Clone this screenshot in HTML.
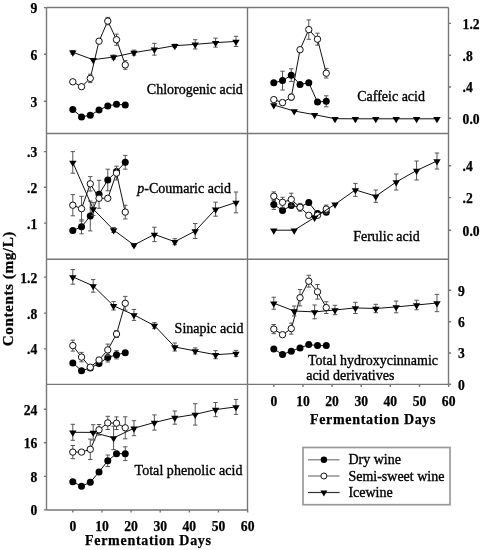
<!DOCTYPE html>
<html><head><meta charset="utf-8"><title>Phenolic acids</title>
<style>
html,body{margin:0;padding:0;background:#fff;}
body{width:485px;height:550px;overflow:hidden;font-family:"Liberation Serif",serif;}
svg{display:block;-webkit-font-smoothing:antialiased;will-change:transform;}
</style></head>
<body>
<svg width="485" height="550" viewBox="0 0 485 550">
<rect width="485" height="550" fill="#fff"/>
<g>
<path d="M46.5 7.5H448.5M46.5 133.5H448.5M46.5 259.3H448.5M46.5 384.4H448.5M46.5 510.0H247.5" stroke="#777" stroke-width="1.4" fill="none"/>
<path d="M46.5 7.5V510.0M247.5 7.5V510.0M448.5 7.5V384.4" stroke="#777" stroke-width="1.4" fill="none"/>
<path d="M43.9 7.6H46.5M43.9 54.2H46.5M43.9 101.3H46.5M43.9 151.6H46.5M43.9 187.3H46.5M43.9 223.1H46.5M43.9 277.1H46.5M43.9 313.1H46.5M43.9 348.9H46.5M43.9 409.2H46.5M43.9 442.8H46.5M43.9 476.4H46.5M43.9 509.9H46.5M448.5 23.4H451.1M448.5 55.2H451.1M448.5 87H451.1M448.5 118.3H451.1M448.5 165.7H451.1M448.5 197.6H451.1M448.5 230.2H451.1M448.5 290.2H451.1M448.5 321.7H451.1M448.5 353H451.1M448.5 384.3H451.1M72.8 510.0V512.6M273.8 384.4V387.0M101.94 510.0V512.6M302.94 384.4V387.0M131.08 510.0V512.6M332.08 384.4V387.0M160.22 510.0V512.6M361.22 384.4V387.0M189.36 510.0V512.6M390.36 384.4V387.0M218.5 510.0V512.6M419.5 384.4V387.0M247.64 510.0V512.6M448.64 384.4V387.0" stroke="#777" stroke-width="1.4" fill="none"/>
</g>
<g>
<polyline points="72.8,109.5 81.54,116.9 90.28,115.3 99.03,110 107.77,105.9 116.51,104.3 125.25,105" stroke="#111" stroke-width="1" fill="none"/>
<circle cx="72.8" cy="109.5" r="3.5" fill="#000"/>
<circle cx="81.54" cy="116.9" r="3.5" fill="#000"/>
<circle cx="90.28" cy="115.3" r="3.5" fill="#000"/>
<circle cx="99.03" cy="110" r="3.5" fill="#000"/>
<circle cx="107.77" cy="105.9" r="3.5" fill="#000"/>
<circle cx="116.51" cy="104.3" r="3.5" fill="#000"/>
<circle cx="125.25" cy="105" r="3.5" fill="#000"/>
<polyline points="72.8,81.8 81.54,86.7 90.28,78.4 99.03,41.2 107.77,21.1 116.51,39.7 125.25,64.9" stroke="#111" stroke-width="1" fill="none"/>
<path d="M90.28 74.2V82.6M88.08 74.2H92.48M88.08 82.6H92.48" stroke="#555" stroke-width="1" fill="none"/>
<path d="M107.77 17.4V24.8M105.57 17.4H109.97M105.57 24.8H109.97" stroke="#555" stroke-width="1" fill="none"/>
<path d="M116.51 34.1V45.3M114.31 34.1H118.71M114.31 45.3H118.71" stroke="#555" stroke-width="1" fill="none"/>
<path d="M125.25 60.5V69.3M123.05 60.5H127.45M123.05 69.3H127.45" stroke="#555" stroke-width="1" fill="none"/>
<circle cx="72.8" cy="81.8" r="3.2" fill="#fff" stroke="#111" stroke-width="1"/>
<circle cx="81.54" cy="86.7" r="3.2" fill="#fff" stroke="#111" stroke-width="1"/>
<circle cx="90.28" cy="78.4" r="3.2" fill="#fff" stroke="#111" stroke-width="1"/>
<circle cx="99.03" cy="41.2" r="3.2" fill="#fff" stroke="#111" stroke-width="1"/>
<circle cx="107.77" cy="21.1" r="3.2" fill="#fff" stroke="#111" stroke-width="1"/>
<circle cx="116.51" cy="39.7" r="3.2" fill="#fff" stroke="#111" stroke-width="1"/>
<circle cx="125.25" cy="64.9" r="3.2" fill="#fff" stroke="#111" stroke-width="1"/>
<polyline points="72.8,52.3 93.2,59.7 113.6,57 133.99,52.6 154.39,49.25 174.79,45.7 195.19,44.35 215.59,42.65 235.98,41.4" stroke="#111" stroke-width="1" fill="none"/>
<path d="M72.8 50.5V54.1M70.6 50.5H75M70.6 54.1H75" stroke="#555" stroke-width="1" fill="none"/>
<path d="M113.6 55V59M111.4 55H115.8M111.4 59H115.8" stroke="#555" stroke-width="1" fill="none"/>
<path d="M133.99 50.1V55.1M131.79 50.1H136.19M131.79 55.1H136.19" stroke="#555" stroke-width="1" fill="none"/>
<path d="M154.39 43.35V55.15M152.19 43.35H156.59M152.19 55.15H156.59" stroke="#555" stroke-width="1" fill="none"/>
<path d="M174.79 44.2V47.2M172.59 44.2H176.99M172.59 47.2H176.99" stroke="#555" stroke-width="1" fill="none"/>
<path d="M195.19 39.7V49M192.99 39.7H197.39M192.99 49H197.39" stroke="#555" stroke-width="1" fill="none"/>
<path d="M215.59 38.15V47.15M213.39 38.15H217.79M213.39 47.15H217.79" stroke="#555" stroke-width="1" fill="none"/>
<path d="M235.98 36.3V46.5M233.78 36.3H238.18M233.78 46.5H238.18" stroke="#555" stroke-width="1" fill="none"/>
<path d="M69.1 50.53H76.5L72.8 56.73Z" fill="#000"/>
<path d="M89.5 57.93H96.9L93.2 64.13Z" fill="#000"/>
<path d="M109.9 55.23H117.3L113.6 61.43Z" fill="#000"/>
<path d="M130.29 50.83H137.69L133.99 57.03Z" fill="#000"/>
<path d="M150.69 47.48H158.09L154.39 53.68Z" fill="#000"/>
<path d="M171.09 43.93H178.49L174.79 50.13Z" fill="#000"/>
<path d="M191.49 42.58H198.89L195.19 48.78Z" fill="#000"/>
<path d="M211.89 40.88H219.29L215.59 47.08Z" fill="#000"/>
<path d="M232.28 39.63H239.68L235.98 45.83Z" fill="#000"/>
<polyline points="273.8,82.8 282.54,80.6 291.28,75.2 300.03,84.4 308.77,82.8 317.51,102.1 326.25,101.3" stroke="#111" stroke-width="1" fill="none"/>
<path d="M282.54 71.2V90M280.34 71.2H284.74M280.34 90H284.74" stroke="#555" stroke-width="1" fill="none"/>
<path d="M291.28 68.8V81.6M289.08 68.8H293.48M289.08 81.6H293.48" stroke="#555" stroke-width="1" fill="none"/>
<path d="M326.25 95.8V106.8M324.05 95.8H328.45M324.05 106.8H328.45" stroke="#555" stroke-width="1" fill="none"/>
<circle cx="273.8" cy="82.8" r="3.5" fill="#000"/>
<circle cx="282.54" cy="80.6" r="3.5" fill="#000"/>
<circle cx="291.28" cy="75.2" r="3.5" fill="#000"/>
<circle cx="300.03" cy="84.4" r="3.5" fill="#000"/>
<circle cx="308.77" cy="82.8" r="3.5" fill="#000"/>
<circle cx="317.51" cy="102.1" r="3.5" fill="#000"/>
<circle cx="326.25" cy="101.3" r="3.5" fill="#000"/>
<polyline points="273.8,99.6 282.54,102.6 291.28,97.1 300.03,49.7 308.77,29.6 317.51,39.2 326.25,73.2" stroke="#111" stroke-width="1" fill="none"/>
<path d="M291.28 94.1V100.1M289.08 94.1H293.48M289.08 100.1H293.48" stroke="#555" stroke-width="1" fill="none"/>
<path d="M308.77 19.9V39.3M306.57 19.9H310.97M306.57 39.3H310.97" stroke="#555" stroke-width="1" fill="none"/>
<path d="M317.51 33.2V45.2M315.31 33.2H319.71M315.31 45.2H319.71" stroke="#555" stroke-width="1" fill="none"/>
<path d="M326.25 68.4V78M324.05 68.4H328.45M324.05 78H328.45" stroke="#555" stroke-width="1" fill="none"/>
<circle cx="273.8" cy="99.6" r="3.2" fill="#fff" stroke="#111" stroke-width="1"/>
<circle cx="282.54" cy="102.6" r="3.2" fill="#fff" stroke="#111" stroke-width="1"/>
<circle cx="291.28" cy="97.1" r="3.2" fill="#fff" stroke="#111" stroke-width="1"/>
<circle cx="300.03" cy="49.7" r="3.2" fill="#fff" stroke="#111" stroke-width="1"/>
<circle cx="308.77" cy="29.6" r="3.2" fill="#fff" stroke="#111" stroke-width="1"/>
<circle cx="317.51" cy="39.2" r="3.2" fill="#fff" stroke="#111" stroke-width="1"/>
<circle cx="326.25" cy="73.2" r="3.2" fill="#fff" stroke="#111" stroke-width="1"/>
<polyline points="273.8,105 294.2,111 314.6,114.7 334.99,118.7 355.39,118.8 375.79,118.8 396.19,118.8 416.59,118.8 436.98,118.8" stroke="#111" stroke-width="1" fill="none"/>
<path d="M270.1 103.23H277.5L273.8 109.43Z" fill="#000"/>
<path d="M290.5 109.23H297.9L294.2 115.43Z" fill="#000"/>
<path d="M310.9 112.93H318.3L314.6 119.13Z" fill="#000"/>
<path d="M331.29 116.93H338.69L334.99 123.13Z" fill="#000"/>
<path d="M351.69 117.03H359.09L355.39 123.23Z" fill="#000"/>
<path d="M372.09 117.03H379.49L375.79 123.23Z" fill="#000"/>
<path d="M392.49 117.03H399.89L396.19 123.23Z" fill="#000"/>
<path d="M412.89 117.03H420.29L416.59 123.23Z" fill="#000"/>
<path d="M433.28 117.03H440.68L436.98 123.23Z" fill="#000"/>
<polyline points="72.8,230.5 81.54,226.8 90.28,216 99.03,194.3 107.77,180 116.51,171.5 125.25,162.3" stroke="#111" stroke-width="1" fill="none"/>
<path d="M81.54 219.8V233.8M79.34 219.8H83.74M79.34 233.8H83.74" stroke="#555" stroke-width="1" fill="none"/>
<path d="M90.28 201.1V230.9M88.08 201.1H92.48M88.08 230.9H92.48" stroke="#555" stroke-width="1" fill="none"/>
<path d="M99.03 180.3V208.3M96.83 180.3H101.23M96.83 208.3H101.23" stroke="#555" stroke-width="1" fill="none"/>
<path d="M107.77 169.2V190.8M105.57 169.2H109.97M105.57 190.8H109.97" stroke="#555" stroke-width="1" fill="none"/>
<path d="M125.25 155.4V169.2M123.05 155.4H127.45M123.05 169.2H127.45" stroke="#555" stroke-width="1" fill="none"/>
<circle cx="72.8" cy="230.5" r="3.5" fill="#000"/>
<circle cx="81.54" cy="226.8" r="3.5" fill="#000"/>
<circle cx="90.28" cy="216" r="3.5" fill="#000"/>
<circle cx="99.03" cy="194.3" r="3.5" fill="#000"/>
<circle cx="107.77" cy="180" r="3.5" fill="#000"/>
<circle cx="116.51" cy="171.5" r="3.5" fill="#000"/>
<circle cx="125.25" cy="162.3" r="3.5" fill="#000"/>
<polyline points="72.8,205.2 81.54,208.7 90.28,183.8 99.03,198.3 107.77,198.3 116.51,173.1 125.25,212.1" stroke="#111" stroke-width="1" fill="none"/>
<path d="M72.8 194.6V215.8M70.6 194.6H75M70.6 215.8H75" stroke="#555" stroke-width="1" fill="none"/>
<path d="M81.54 196.3V221.1M79.34 196.3H83.74M79.34 221.1H83.74" stroke="#555" stroke-width="1" fill="none"/>
<path d="M90.28 176.6V191M88.08 176.6H92.48M88.08 191H92.48" stroke="#555" stroke-width="1" fill="none"/>
<path d="M116.51 166.2V180M114.31 166.2H118.71M114.31 180H118.71" stroke="#555" stroke-width="1" fill="none"/>
<path d="M125.25 205.2V219M123.05 205.2H127.45M123.05 219H127.45" stroke="#555" stroke-width="1" fill="none"/>
<circle cx="72.8" cy="205.2" r="3.2" fill="#fff" stroke="#111" stroke-width="1"/>
<circle cx="81.54" cy="208.7" r="3.2" fill="#fff" stroke="#111" stroke-width="1"/>
<circle cx="90.28" cy="183.8" r="3.2" fill="#fff" stroke="#111" stroke-width="1"/>
<circle cx="99.03" cy="198.3" r="3.2" fill="#fff" stroke="#111" stroke-width="1"/>
<circle cx="107.77" cy="198.3" r="3.2" fill="#fff" stroke="#111" stroke-width="1"/>
<circle cx="116.51" cy="173.1" r="3.2" fill="#fff" stroke="#111" stroke-width="1"/>
<circle cx="125.25" cy="212.1" r="3.2" fill="#fff" stroke="#111" stroke-width="1"/>
<polyline points="72.8,162.4 93.2,209 113.6,230 133.99,245 154.39,234.4 174.79,241.7 195.19,231 215.59,209.2 235.98,202.4" stroke="#111" stroke-width="1" fill="none"/>
<path d="M72.8 151.6V173.2M70.6 151.6H75M70.6 173.2H75" stroke="#555" stroke-width="1" fill="none"/>
<path d="M93.2 202.6V215.4M91 202.6H95.4M91 215.4H95.4" stroke="#555" stroke-width="1" fill="none"/>
<path d="M113.6 227.5V232.5M111.4 227.5H115.8M111.4 232.5H115.8" stroke="#555" stroke-width="1" fill="none"/>
<path d="M133.99 243.5V246.5M131.79 243.5H136.19M131.79 246.5H136.19" stroke="#555" stroke-width="1" fill="none"/>
<path d="M154.39 227.2V241.6M152.19 227.2H156.59M152.19 241.6H156.59" stroke="#555" stroke-width="1" fill="none"/>
<path d="M174.79 238.7V244.7M172.59 238.7H176.99M172.59 244.7H176.99" stroke="#555" stroke-width="1" fill="none"/>
<path d="M195.19 223.5V238.5M192.99 223.5H197.39M192.99 238.5H197.39" stroke="#555" stroke-width="1" fill="none"/>
<path d="M215.59 202.2V216.2M213.39 202.2H217.79M213.39 216.2H217.79" stroke="#555" stroke-width="1" fill="none"/>
<path d="M235.98 192V212.8M233.78 192H238.18M233.78 212.8H238.18" stroke="#555" stroke-width="1" fill="none"/>
<path d="M69.1 160.63H76.5L72.8 166.83Z" fill="#000"/>
<path d="M89.5 207.23H96.9L93.2 213.43Z" fill="#000"/>
<path d="M109.9 228.23H117.3L113.6 234.43Z" fill="#000"/>
<path d="M130.29 243.23H137.69L133.99 249.43Z" fill="#000"/>
<path d="M150.69 232.63H158.09L154.39 238.83Z" fill="#000"/>
<path d="M171.09 239.93H178.49L174.79 246.13Z" fill="#000"/>
<path d="M191.49 229.23H198.89L195.19 235.43Z" fill="#000"/>
<path d="M211.89 207.43H219.29L215.59 213.63Z" fill="#000"/>
<path d="M232.28 200.63H239.68L235.98 206.83Z" fill="#000"/>
<polyline points="273.8,204.4 282.54,210.5 291.28,205.6 300.03,207 308.77,202.6 317.51,213.5 326.25,212.2" stroke="#111" stroke-width="1" fill="none"/>
<path d="M273.8 199.4V209.4M271.6 199.4H276M271.6 209.4H276" stroke="#555" stroke-width="1" fill="none"/>
<circle cx="273.8" cy="204.4" r="3.5" fill="#000"/>
<circle cx="282.54" cy="210.5" r="3.5" fill="#000"/>
<circle cx="291.28" cy="205.6" r="3.5" fill="#000"/>
<circle cx="300.03" cy="207" r="3.5" fill="#000"/>
<circle cx="308.77" cy="202.6" r="3.5" fill="#000"/>
<circle cx="317.51" cy="213.5" r="3.5" fill="#000"/>
<circle cx="326.25" cy="212.2" r="3.5" fill="#000"/>
<polyline points="273.8,196.2 282.54,202.3 291.28,199.5 300.03,207.3 308.77,215.3 317.51,215.3 326.25,209.1" stroke="#111" stroke-width="1" fill="none"/>
<path d="M273.8 191.9V200.5M271.6 191.9H276M271.6 200.5H276" stroke="#555" stroke-width="1" fill="none"/>
<path d="M282.54 197.3V207.3M280.34 197.3H284.74M280.34 207.3H284.74" stroke="#555" stroke-width="1" fill="none"/>
<path d="M291.28 193.2V205.8M289.08 193.2H293.48M289.08 205.8H293.48" stroke="#555" stroke-width="1" fill="none"/>
<path d="M300.03 203.4V211.2M297.83 203.4H302.23M297.83 211.2H302.23" stroke="#555" stroke-width="1" fill="none"/>
<path d="M326.25 205.1V213.1M324.05 205.1H328.45M324.05 213.1H328.45" stroke="#555" stroke-width="1" fill="none"/>
<circle cx="273.8" cy="196.2" r="3.2" fill="#fff" stroke="#111" stroke-width="1"/>
<circle cx="282.54" cy="202.3" r="3.2" fill="#fff" stroke="#111" stroke-width="1"/>
<circle cx="291.28" cy="199.5" r="3.2" fill="#fff" stroke="#111" stroke-width="1"/>
<circle cx="300.03" cy="207.3" r="3.2" fill="#fff" stroke="#111" stroke-width="1"/>
<circle cx="308.77" cy="215.3" r="3.2" fill="#fff" stroke="#111" stroke-width="1"/>
<circle cx="317.51" cy="215.3" r="3.2" fill="#fff" stroke="#111" stroke-width="1"/>
<circle cx="326.25" cy="209.1" r="3.2" fill="#fff" stroke="#111" stroke-width="1"/>
<polyline points="273.8,230.2 294.2,230.2 314.6,217.5 334.99,204.3 355.39,189.9 375.79,196.2 396.19,182 416.59,170.5 436.98,161" stroke="#111" stroke-width="1" fill="none"/>
<path d="M355.39 183.4V196.4M353.19 183.4H357.59M353.19 196.4H357.59" stroke="#555" stroke-width="1" fill="none"/>
<path d="M375.79 190V202.4M373.59 190H377.99M373.59 202.4H377.99" stroke="#555" stroke-width="1" fill="none"/>
<path d="M396.19 174V190M393.99 174H398.39M393.99 190H398.39" stroke="#555" stroke-width="1" fill="none"/>
<path d="M416.59 161V180M414.39 161H418.79M414.39 180H418.79" stroke="#555" stroke-width="1" fill="none"/>
<path d="M436.98 153V169M434.78 153H439.18M434.78 169H439.18" stroke="#555" stroke-width="1" fill="none"/>
<path d="M270.1 228.43H277.5L273.8 234.63Z" fill="#000"/>
<path d="M290.5 228.43H297.9L294.2 234.63Z" fill="#000"/>
<path d="M310.9 215.73H318.3L314.6 221.93Z" fill="#000"/>
<path d="M331.29 202.53H338.69L334.99 208.73Z" fill="#000"/>
<path d="M351.69 188.13H359.09L355.39 194.33Z" fill="#000"/>
<path d="M372.09 194.43H379.49L375.79 200.63Z" fill="#000"/>
<path d="M392.49 180.23H399.89L396.19 186.43Z" fill="#000"/>
<path d="M412.89 168.73H420.29L416.59 174.93Z" fill="#000"/>
<path d="M433.28 159.23H440.68L436.98 165.43Z" fill="#000"/>
<polyline points="72.8,362.9 81.54,370.7 90.28,368 99.03,363.5 107.77,357.4 116.51,354.8 125.25,352.8" stroke="#111" stroke-width="1" fill="none"/>
<path d="M107.77 352.8V362M105.57 352.8H109.97M105.57 362H109.97" stroke="#555" stroke-width="1" fill="none"/>
<path d="M116.51 350.7V358.9M114.31 350.7H118.71M114.31 358.9H118.71" stroke="#555" stroke-width="1" fill="none"/>
<circle cx="72.8" cy="362.9" r="3.5" fill="#000"/>
<circle cx="81.54" cy="370.7" r="3.5" fill="#000"/>
<circle cx="90.28" cy="368" r="3.5" fill="#000"/>
<circle cx="99.03" cy="363.5" r="3.5" fill="#000"/>
<circle cx="107.77" cy="357.4" r="3.5" fill="#000"/>
<circle cx="116.51" cy="354.8" r="3.5" fill="#000"/>
<circle cx="125.25" cy="352.8" r="3.5" fill="#000"/>
<polyline points="72.8,345.6 81.54,357.1 90.28,367.2 99.03,360 107.77,349.9 116.51,334 125.25,303.3" stroke="#111" stroke-width="1" fill="none"/>
<path d="M72.8 340.1V351.1M70.6 340.1H75M70.6 351.1H75" stroke="#555" stroke-width="1" fill="none"/>
<path d="M81.54 352.4V361.8M79.34 352.4H83.74M79.34 361.8H83.74" stroke="#555" stroke-width="1" fill="none"/>
<path d="M107.77 344.1V355.7M105.57 344.1H109.97M105.57 355.7H109.97" stroke="#555" stroke-width="1" fill="none"/>
<path d="M116.51 330.5V337.5M114.31 330.5H118.71M114.31 337.5H118.71" stroke="#555" stroke-width="1" fill="none"/>
<path d="M125.25 296.4V310.2M123.05 296.4H127.45M123.05 310.2H127.45" stroke="#555" stroke-width="1" fill="none"/>
<circle cx="72.8" cy="345.6" r="3.2" fill="#fff" stroke="#111" stroke-width="1"/>
<circle cx="81.54" cy="357.1" r="3.2" fill="#fff" stroke="#111" stroke-width="1"/>
<circle cx="90.28" cy="367.2" r="3.2" fill="#fff" stroke="#111" stroke-width="1"/>
<circle cx="99.03" cy="360" r="3.2" fill="#fff" stroke="#111" stroke-width="1"/>
<circle cx="107.77" cy="349.9" r="3.2" fill="#fff" stroke="#111" stroke-width="1"/>
<circle cx="116.51" cy="334" r="3.2" fill="#fff" stroke="#111" stroke-width="1"/>
<circle cx="125.25" cy="303.3" r="3.2" fill="#fff" stroke="#111" stroke-width="1"/>
<polyline points="72.8,276.9 93.2,285.9 113.6,305.8 133.99,314.9 154.39,325.6 174.79,347 195.19,350.9 215.59,354.7 235.98,353.4" stroke="#111" stroke-width="1" fill="none"/>
<path d="M72.8 269.6V284.2M70.6 269.6H75M70.6 284.2H75" stroke="#555" stroke-width="1" fill="none"/>
<path d="M93.2 279.6V292.2M91 279.6H95.4M91 292.2H95.4" stroke="#555" stroke-width="1" fill="none"/>
<path d="M113.6 301.6V310M111.4 301.6H115.8M111.4 310H115.8" stroke="#555" stroke-width="1" fill="none"/>
<path d="M133.99 309.4V320.4M131.79 309.4H136.19M131.79 320.4H136.19" stroke="#555" stroke-width="1" fill="none"/>
<path d="M154.39 322.6V328.6M152.19 322.6H156.59M152.19 328.6H156.59" stroke="#555" stroke-width="1" fill="none"/>
<path d="M174.79 343V351M172.59 343H176.99M172.59 351H176.99" stroke="#555" stroke-width="1" fill="none"/>
<path d="M195.19 347.9V353.9M192.99 347.9H197.39M192.99 353.9H197.39" stroke="#555" stroke-width="1" fill="none"/>
<path d="M215.59 350.7V358.7M213.39 350.7H217.79M213.39 358.7H217.79" stroke="#555" stroke-width="1" fill="none"/>
<path d="M235.98 350.4V356.4M233.78 350.4H238.18M233.78 356.4H238.18" stroke="#555" stroke-width="1" fill="none"/>
<path d="M69.1 275.13H76.5L72.8 281.33Z" fill="#000"/>
<path d="M89.5 284.13H96.9L93.2 290.33Z" fill="#000"/>
<path d="M109.9 304.03H117.3L113.6 310.23Z" fill="#000"/>
<path d="M130.29 313.13H137.69L133.99 319.33Z" fill="#000"/>
<path d="M150.69 323.83H158.09L154.39 330.03Z" fill="#000"/>
<path d="M171.09 345.23H178.49L174.79 351.43Z" fill="#000"/>
<path d="M191.49 349.13H198.89L195.19 355.33Z" fill="#000"/>
<path d="M211.89 352.93H219.29L215.59 359.13Z" fill="#000"/>
<path d="M232.28 351.63H239.68L235.98 357.83Z" fill="#000"/>
<polyline points="273.8,348.9 282.54,354.5 291.28,351.2 300.03,347.9 308.77,344.6 317.51,345.6 326.25,345.6" stroke="#111" stroke-width="1" fill="none"/>
<circle cx="273.8" cy="348.9" r="3.5" fill="#000"/>
<circle cx="282.54" cy="354.5" r="3.5" fill="#000"/>
<circle cx="291.28" cy="351.2" r="3.5" fill="#000"/>
<circle cx="300.03" cy="347.9" r="3.5" fill="#000"/>
<circle cx="308.77" cy="344.6" r="3.5" fill="#000"/>
<circle cx="317.51" cy="345.6" r="3.5" fill="#000"/>
<circle cx="326.25" cy="345.6" r="3.5" fill="#000"/>
<polyline points="273.8,329.1 282.54,334.7 291.28,328.6 300.03,297.7 308.77,281.2 317.51,291.8 326.25,307.6" stroke="#111" stroke-width="1" fill="none"/>
<path d="M273.8 324.5V333.7M271.6 324.5H276M271.6 333.7H276" stroke="#555" stroke-width="1" fill="none"/>
<path d="M291.28 323.1V334.1M289.08 323.1H293.48M289.08 334.1H293.48" stroke="#555" stroke-width="1" fill="none"/>
<path d="M300.03 289.5V305.9M297.83 289.5H302.23M297.83 305.9H302.23" stroke="#555" stroke-width="1" fill="none"/>
<path d="M308.77 275.3V287.1M306.57 275.3H310.97M306.57 287.1H310.97" stroke="#555" stroke-width="1" fill="none"/>
<path d="M317.51 284.5V299.1M315.31 284.5H319.71M315.31 299.1H319.71" stroke="#555" stroke-width="1" fill="none"/>
<path d="M326.25 301.7V313.5M324.05 301.7H328.45M324.05 313.5H328.45" stroke="#555" stroke-width="1" fill="none"/>
<circle cx="273.8" cy="329.1" r="3.2" fill="#fff" stroke="#111" stroke-width="1"/>
<circle cx="282.54" cy="334.7" r="3.2" fill="#fff" stroke="#111" stroke-width="1"/>
<circle cx="291.28" cy="328.6" r="3.2" fill="#fff" stroke="#111" stroke-width="1"/>
<circle cx="300.03" cy="297.7" r="3.2" fill="#fff" stroke="#111" stroke-width="1"/>
<circle cx="308.77" cy="281.2" r="3.2" fill="#fff" stroke="#111" stroke-width="1"/>
<circle cx="317.51" cy="291.8" r="3.2" fill="#fff" stroke="#111" stroke-width="1"/>
<circle cx="326.25" cy="307.6" r="3.2" fill="#fff" stroke="#111" stroke-width="1"/>
<polyline points="273.8,303.2 294.2,311 314.6,311.9 334.99,310 355.39,307.9 375.79,308.5 396.19,306.9 416.59,305 436.98,303" stroke="#111" stroke-width="1" fill="none"/>
<path d="M273.8 297.2V309.2M271.6 297.2H276M271.6 309.2H276" stroke="#555" stroke-width="1" fill="none"/>
<path d="M294.2 306V316M292 306H296.4M292 316H296.4" stroke="#555" stroke-width="1" fill="none"/>
<path d="M314.6 305V318.8M312.4 305H316.8M312.4 318.8H316.8" stroke="#555" stroke-width="1" fill="none"/>
<path d="M334.99 305.3V314.7M332.79 305.3H337.19M332.79 314.7H337.19" stroke="#555" stroke-width="1" fill="none"/>
<path d="M355.39 302.3V313.5M353.19 302.3H357.59M353.19 313.5H357.59" stroke="#555" stroke-width="1" fill="none"/>
<path d="M375.79 304.3V312.7M373.59 304.3H377.99M373.59 312.7H377.99" stroke="#555" stroke-width="1" fill="none"/>
<path d="M396.19 301V312.8M393.99 301H398.39M393.99 312.8H398.39" stroke="#555" stroke-width="1" fill="none"/>
<path d="M416.59 300.25V309.75M414.39 300.25H418.79M414.39 309.75H418.79" stroke="#555" stroke-width="1" fill="none"/>
<path d="M436.98 294.35V311.65M434.78 294.35H439.18M434.78 311.65H439.18" stroke="#555" stroke-width="1" fill="none"/>
<path d="M270.1 301.43H277.5L273.8 307.63Z" fill="#000"/>
<path d="M290.5 309.23H297.9L294.2 315.43Z" fill="#000"/>
<path d="M310.9 310.13H318.3L314.6 316.33Z" fill="#000"/>
<path d="M331.29 308.23H338.69L334.99 314.43Z" fill="#000"/>
<path d="M351.69 306.13H359.09L355.39 312.33Z" fill="#000"/>
<path d="M372.09 306.73H379.49L375.79 312.93Z" fill="#000"/>
<path d="M392.49 305.13H399.89L396.19 311.33Z" fill="#000"/>
<path d="M412.89 303.23H420.29L416.59 309.43Z" fill="#000"/>
<path d="M433.28 301.23H440.68L436.98 307.43Z" fill="#000"/>
<polyline points="72.8,481.8 81.54,486.2 90.28,482.3 99.03,471.9 107.77,460.8 116.51,453.7 125.25,453.7" stroke="#111" stroke-width="1" fill="none"/>
<path d="M107.77 455V466.6M105.57 455H109.97M105.57 466.6H109.97" stroke="#555" stroke-width="1" fill="none"/>
<path d="M125.25 446.8V460.6M123.05 446.8H127.45M123.05 460.6H127.45" stroke="#555" stroke-width="1" fill="none"/>
<circle cx="72.8" cy="481.8" r="3.5" fill="#000"/>
<circle cx="81.54" cy="486.2" r="3.5" fill="#000"/>
<circle cx="90.28" cy="482.3" r="3.5" fill="#000"/>
<circle cx="99.03" cy="471.9" r="3.5" fill="#000"/>
<circle cx="107.77" cy="460.8" r="3.5" fill="#000"/>
<circle cx="116.51" cy="453.7" r="3.5" fill="#000"/>
<circle cx="125.25" cy="453.7" r="3.5" fill="#000"/>
<polyline points="72.8,452.1 81.54,452.1 90.28,449.3 99.03,429.8 107.77,422.9 116.51,423.2 125.25,427.8" stroke="#111" stroke-width="1" fill="none"/>
<path d="M72.8 445.5V458.7M70.6 445.5H75M70.6 458.7H75" stroke="#555" stroke-width="1" fill="none"/>
<path d="M90.28 439.1V459.5M88.08 439.1H92.48M88.08 459.5H92.48" stroke="#555" stroke-width="1" fill="none"/>
<path d="M99.03 424.5V435.1M96.83 424.5H101.23M96.83 435.1H101.23" stroke="#555" stroke-width="1" fill="none"/>
<path d="M107.77 416.3V429.5M105.57 416.3H109.97M105.57 429.5H109.97" stroke="#555" stroke-width="1" fill="none"/>
<path d="M116.51 416.9V429.5M114.31 416.9H118.71M114.31 429.5H118.71" stroke="#555" stroke-width="1" fill="none"/>
<path d="M125.25 416.8V438.8M123.05 416.8H127.45M123.05 438.8H127.45" stroke="#555" stroke-width="1" fill="none"/>
<circle cx="72.8" cy="452.1" r="3.2" fill="#fff" stroke="#111" stroke-width="1"/>
<circle cx="81.54" cy="452.1" r="3.2" fill="#fff" stroke="#111" stroke-width="1"/>
<circle cx="90.28" cy="449.3" r="3.2" fill="#fff" stroke="#111" stroke-width="1"/>
<circle cx="99.03" cy="429.8" r="3.2" fill="#fff" stroke="#111" stroke-width="1"/>
<circle cx="107.77" cy="422.9" r="3.2" fill="#fff" stroke="#111" stroke-width="1"/>
<circle cx="116.51" cy="423.2" r="3.2" fill="#fff" stroke="#111" stroke-width="1"/>
<circle cx="125.25" cy="427.8" r="3.2" fill="#fff" stroke="#111" stroke-width="1"/>
<polyline points="72.8,432.3 93.2,432.4 113.6,437.9 133.99,428.2 154.39,422.5 174.79,417.6 195.19,414.4 215.59,409.6 235.98,406.9" stroke="#111" stroke-width="1" fill="none"/>
<path d="M72.8 424.3V440.3M70.6 424.3H75M70.6 440.3H75" stroke="#555" stroke-width="1" fill="none"/>
<path d="M93.2 424.7V440.1M91 424.7H95.4M91 440.1H95.4" stroke="#555" stroke-width="1" fill="none"/>
<path d="M113.6 426.2V449.6M111.4 426.2H115.8M111.4 449.6H115.8" stroke="#555" stroke-width="1" fill="none"/>
<path d="M133.99 420.7V435.7M131.79 420.7H136.19M131.79 435.7H136.19" stroke="#555" stroke-width="1" fill="none"/>
<path d="M154.39 414.9V430.1M152.19 414.9H156.59M152.19 430.1H156.59" stroke="#555" stroke-width="1" fill="none"/>
<path d="M174.79 411V424.2M172.59 411H176.99M172.59 424.2H176.99" stroke="#555" stroke-width="1" fill="none"/>
<path d="M195.19 403.7V425.1M192.99 403.7H197.39M192.99 425.1H197.39" stroke="#555" stroke-width="1" fill="none"/>
<path d="M215.59 402.5V416.7M213.39 402.5H217.79M213.39 416.7H217.79" stroke="#555" stroke-width="1" fill="none"/>
<path d="M235.98 399.4V414.4M233.78 399.4H238.18M233.78 414.4H238.18" stroke="#555" stroke-width="1" fill="none"/>
<path d="M69.1 430.53H76.5L72.8 436.73Z" fill="#000"/>
<path d="M89.5 430.63H96.9L93.2 436.83Z" fill="#000"/>
<path d="M109.9 436.13H117.3L113.6 442.33Z" fill="#000"/>
<path d="M130.29 426.43H137.69L133.99 432.63Z" fill="#000"/>
<path d="M150.69 420.73H158.09L154.39 426.93Z" fill="#000"/>
<path d="M171.09 415.83H178.49L174.79 422.03Z" fill="#000"/>
<path d="M191.49 412.63H198.89L195.19 418.83Z" fill="#000"/>
<path d="M211.89 407.83H219.29L215.59 414.03Z" fill="#000"/>
<path d="M232.28 405.13H239.68L235.98 411.33Z" fill="#000"/>
</g>
<g fill="#000">
<text x="37.3" y="13" text-anchor="end" font-family="Liberation Serif" font-weight="bold" font-size="13.6" stroke="#000" stroke-width="0.25">9</text>
<text x="37.3" y="59.6" text-anchor="end" font-family="Liberation Serif" font-weight="bold" font-size="13.6" stroke="#000" stroke-width="0.25">6</text>
<text x="37.3" y="106.7" text-anchor="end" font-family="Liberation Serif" font-weight="bold" font-size="13.6" stroke="#000" stroke-width="0.25">3</text>
<text x="37.3" y="157" text-anchor="end" font-family="Liberation Serif" font-weight="bold" font-size="13.6" stroke="#000" stroke-width="0.25">.3</text>
<text x="37.3" y="192.7" text-anchor="end" font-family="Liberation Serif" font-weight="bold" font-size="13.6" stroke="#000" stroke-width="0.25">.2</text>
<text x="37.3" y="228.5" text-anchor="end" font-family="Liberation Serif" font-weight="bold" font-size="13.6" stroke="#000" stroke-width="0.25">.1</text>
<text x="37.3" y="282.5" text-anchor="end" font-family="Liberation Serif" font-weight="bold" font-size="13.6" stroke="#000" stroke-width="0.25">1.2</text>
<text x="37.3" y="318.5" text-anchor="end" font-family="Liberation Serif" font-weight="bold" font-size="13.6" stroke="#000" stroke-width="0.25">.8</text>
<text x="37.3" y="354.3" text-anchor="end" font-family="Liberation Serif" font-weight="bold" font-size="13.6" stroke="#000" stroke-width="0.25">.4</text>
<text x="37.3" y="414.6" text-anchor="end" font-family="Liberation Serif" font-weight="bold" font-size="13.6" stroke="#000" stroke-width="0.25">24</text>
<text x="37.3" y="448.2" text-anchor="end" font-family="Liberation Serif" font-weight="bold" font-size="13.6" stroke="#000" stroke-width="0.25">16</text>
<text x="37.3" y="481.8" text-anchor="end" font-family="Liberation Serif" font-weight="bold" font-size="13.6" stroke="#000" stroke-width="0.25">8</text>
<text x="37.3" y="515.3" text-anchor="end" font-family="Liberation Serif" font-weight="bold" font-size="13.6" stroke="#000" stroke-width="0.25">0</text>
<text x="462.6" y="28.8" font-family="Liberation Serif" font-weight="bold" font-size="13.6" stroke="#000" stroke-width="0.25">1.2</text>
<text x="462.6" y="60.6" font-family="Liberation Serif" font-weight="bold" font-size="13.6" stroke="#000" stroke-width="0.25">.8</text>
<text x="462.6" y="92.4" font-family="Liberation Serif" font-weight="bold" font-size="13.6" stroke="#000" stroke-width="0.25">.4</text>
<text x="462.6" y="123.7" font-family="Liberation Serif" font-weight="bold" font-size="13.6" stroke="#000" stroke-width="0.25">0.0</text>
<text x="462.6" y="171.1" font-family="Liberation Serif" font-weight="bold" font-size="13.6" stroke="#000" stroke-width="0.25">.4</text>
<text x="462.6" y="203" font-family="Liberation Serif" font-weight="bold" font-size="13.6" stroke="#000" stroke-width="0.25">.2</text>
<text x="462.6" y="235.6" font-family="Liberation Serif" font-weight="bold" font-size="13.6" stroke="#000" stroke-width="0.25">0.0</text>
<text x="458" y="295.6" font-family="Liberation Serif" font-weight="bold" font-size="13.6" stroke="#000" stroke-width="0.25">9</text>
<text x="458" y="327.1" font-family="Liberation Serif" font-weight="bold" font-size="13.6" stroke="#000" stroke-width="0.25">6</text>
<text x="458" y="358.4" font-family="Liberation Serif" font-weight="bold" font-size="13.6" stroke="#000" stroke-width="0.25">3</text>
<text x="458" y="389.7" font-family="Liberation Serif" font-weight="bold" font-size="13.6" stroke="#000" stroke-width="0.25">0</text>
<text x="72.8" y="530.9" text-anchor="middle" font-family="Liberation Serif" font-weight="bold" font-size="13.6" stroke="#000" stroke-width="0.25">0</text>
<text x="273.8" y="406.2" text-anchor="middle" font-family="Liberation Serif" font-weight="bold" font-size="13.6" stroke="#000" stroke-width="0.25">0</text>
<text x="101.94" y="530.9" text-anchor="middle" font-family="Liberation Serif" font-weight="bold" font-size="13.6" stroke="#000" stroke-width="0.25">10</text>
<text x="302.94" y="406.2" text-anchor="middle" font-family="Liberation Serif" font-weight="bold" font-size="13.6" stroke="#000" stroke-width="0.25">10</text>
<text x="131.08" y="530.9" text-anchor="middle" font-family="Liberation Serif" font-weight="bold" font-size="13.6" stroke="#000" stroke-width="0.25">20</text>
<text x="332.08" y="406.2" text-anchor="middle" font-family="Liberation Serif" font-weight="bold" font-size="13.6" stroke="#000" stroke-width="0.25">20</text>
<text x="160.22" y="530.9" text-anchor="middle" font-family="Liberation Serif" font-weight="bold" font-size="13.6" stroke="#000" stroke-width="0.25">30</text>
<text x="361.22" y="406.2" text-anchor="middle" font-family="Liberation Serif" font-weight="bold" font-size="13.6" stroke="#000" stroke-width="0.25">30</text>
<text x="189.36" y="530.9" text-anchor="middle" font-family="Liberation Serif" font-weight="bold" font-size="13.6" stroke="#000" stroke-width="0.25">40</text>
<text x="390.36" y="406.2" text-anchor="middle" font-family="Liberation Serif" font-weight="bold" font-size="13.6" stroke="#000" stroke-width="0.25">40</text>
<text x="218.5" y="530.9" text-anchor="middle" font-family="Liberation Serif" font-weight="bold" font-size="13.6" stroke="#000" stroke-width="0.25">50</text>
<text x="419.5" y="406.2" text-anchor="middle" font-family="Liberation Serif" font-weight="bold" font-size="13.6" stroke="#000" stroke-width="0.25">50</text>
<text x="247.64" y="530.9" text-anchor="middle" font-family="Liberation Serif" font-weight="bold" font-size="13.6" stroke="#000" stroke-width="0.25">60</text>
<text x="448.64" y="406.2" text-anchor="middle" font-family="Liberation Serif" font-weight="bold" font-size="13.6" stroke="#000" stroke-width="0.25">60</text>
<text x="85" y="544.8" textLength="126" lengthAdjust="spacing" font-family="Liberation Serif" font-weight="bold" font-size="14" stroke="#000" stroke-width="0.25">Fermentation Days</text>
<text x="309.9" y="423.8" textLength="125.6" lengthAdjust="spacing" font-family="Liberation Serif" font-weight="bold" font-size="14" stroke="#000" stroke-width="0.25">Fermentation Days</text>
<text transform="translate(13.4 346.2) rotate(-90)" x="0" y="0" textLength="114.6" lengthAdjust="spacing" font-family="Liberation Serif" font-weight="bold" font-size="15.2" stroke="#000" stroke-width="0.25">Contents (mg/L)</text>
<text x="146.8" y="93.8" font-family="Liberation Serif" font-size="14" stroke="#000" stroke-width="0.35">Chlorogenic acid</text>
<text x="357.2" y="101" font-family="Liberation Serif" font-size="14" stroke="#000" stroke-width="0.35">Caffeic acid</text>
<text x="137.3" y="192.7" font-family="Liberation Serif" font-size="14" stroke="#000" stroke-width="0.35"><tspan font-style="italic">p</tspan>-Coumaric acid</text>
<text x="353.2" y="240.9" font-family="Liberation Serif" font-size="14" stroke="#000" stroke-width="0.35">Ferulic acid</text>
<text x="174.6" y="332.9" font-family="Liberation Serif" font-size="14" stroke="#000" stroke-width="0.35">Sinapic acid</text>
<text x="308" y="364.8" font-family="Liberation Serif" font-size="14" stroke="#000" stroke-width="0.35">Total hydroxycinnamic</text>
<text x="306.2" y="379.7" font-family="Liberation Serif" font-size="14" stroke="#000" stroke-width="0.35">acid derivatives</text>
<text x="134.5" y="475.4" textLength="108" lengthAdjust="spacing" font-family="Liberation Serif" font-size="14" stroke="#000" stroke-width="0.35">Total phenolic acid</text>
</g>
<g>
<rect x="303" y="447.5" width="147" height="57.2" fill="#fff" stroke="#999" stroke-width="1.7"/>
<path d="M308 459.8H339.6" stroke="#777" stroke-width="1.2" fill="none"/>
<circle cx="323.9" cy="459.8" r="3.2" fill="#000"/>
<text x="348.4" y="464.4" font-family="Liberation Serif" font-size="14" stroke="#000" stroke-width="0.35">Dry wine</text>
<path d="M308 476H339.6" stroke="#777" stroke-width="1.2" fill="none"/>
<circle cx="323.9" cy="476" r="3" fill="#fff" stroke="#111" stroke-width="1"/>
<text x="348.4" y="480.6" font-family="Liberation Serif" font-size="14" stroke="#000" stroke-width="0.35">Semi-sweet wine</text>
<path d="M308 492.5H339.6" stroke="#333" stroke-width="1.2" fill="none"/>
<path d="M320.4 490.5H327.4L323.9 496.5Z" fill="#000"/>
<text x="348.4" y="497.1" font-family="Liberation Serif" font-size="14" stroke="#000" stroke-width="0.35">Icewine</text>
</g>
</svg>
</body></html>
